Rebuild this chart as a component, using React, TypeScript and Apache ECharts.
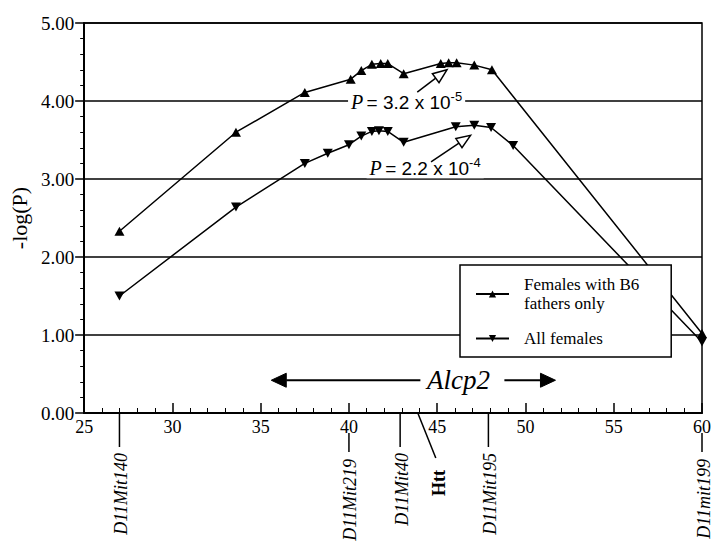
import React, { useEffect, useRef } from 'react';
import * as echarts from 'echarts';

// ---- data ----
const seriesNames = ['Females with B6 fathers only', 'All females'];
const b6X = [27.0, 33.6, 37.5, 40.1, 40.7, 41.3, 41.8, 42.2, 43.1, 45.2, 45.65, 46.1, 47.1, 48.1, 60.0];
const b6Y = [2.33, 3.60, 4.11, 4.28, 4.39, 4.47, 4.48, 4.48, 4.35, 4.48, 4.49, 4.49, 4.46, 4.40, 1.02];
const allX = [27.0, 33.6, 37.5, 38.8, 40.0, 40.7, 41.3, 41.7, 42.2, 43.1, 46.05, 47.1, 48.05, 49.3, 60.0];
const allY = [1.50, 2.64, 3.20, 3.33, 3.44, 3.55, 3.61, 3.62, 3.61, 3.47, 3.67, 3.69, 3.66, 3.43, 0.91];

const markerNames = ['D11Mit140', 'D11Mit219', 'D11Mit40', 'Htt', 'D11Mit195', 'D11mit199'];
const markerPos = [27.0, 40.0, 42.9, 43.9, 47.9, 60.0];

const annotMantissa = ['3.2 x 10', '2.2 x 10'];
const annotExponent = ['-5', '-4'];
const annotAnchor = [[39.95, 4.0], [41.0, 3.15]];
const arrowFrom = [[43.87, 4.115], [44.65, 3.22]];
const arrowTo = [[45.55, 4.40], [46.89, 3.56]];

const alcp2Label = 'Alcp2';
const alcp2Span = [35.6, 51.7];
const alcp2Center = 46.2;
const alcp2Level = 0.42;

const serif = 'Liberation Serif, serif';
const sans = 'Liberation Sans, sans-serif';

function arrowEls(p0: number[], p1: number[], headLen: number, headHalf: number, hollow: boolean, lw: number) {
  const dx = p1[0] - p0[0];
  const dy = p1[1] - p0[1];
  const len = Math.sqrt(dx * dx + dy * dy);
  const ux = dx / len, uy = dy / len;
  const bx = p1[0] - ux * headLen, by = p1[1] - uy * headLen;
  const px = -uy, py = ux;
  return [
    { type: 'line', z: 50, shape: { x1: p0[0], y1: p0[1], x2: bx, y2: by }, style: { stroke: '#000', lineWidth: lw } },
    {
      type: 'polygon', z: 51,
      shape: { points: [[p1[0], p1[1]], [bx + px * headHalf, by + py * headHalf], [bx - px * headHalf, by - py * headHalf]] },
      style: { fill: hollow ? '#fff' : '#000', stroke: '#000', lineWidth: hollow ? 1.5 : 1 },
    },
  ];
}

export default function App() {
  const ref = useRef<HTMLDivElement>(null);
  useEffect(() => {
    const chart = echarts.init(ref.current!, null, { renderer: 'svg' });
    const downTri = 'path://M0,0 L10,0 L5,9 Z';
    const upTri = 'path://M5,0 L10,9 L0,9 Z';
    chart.setOption({
      animation: false,
      backgroundColor: '#fff',
      textStyle: { fontFamily: serif },
      grid: { left: 81, right: 8, top: 23, bottom: 130, show: true, borderColor: '#000', borderWidth: 1.5 },
      xAxis: {
        type: 'value', min: 25, max: 60, interval: 5,
        axisLine: { show: true, onZero: false, lineStyle: { color: '#000', width: 2 } },
        axisTick: { show: true, inside: true, length: 10, lineStyle: { color: '#000', width: 1.5 } },
        minorTick: { show: true, splitNumber: 5, length: 5, lineStyle: { color: '#000', width: 1 } },
        axisLabel: { color: '#000', fontFamily: serif, fontSize: 18, margin: 5 },
        splitLine: { show: false },
      },
      yAxis: {
        type: 'value', min: 0, max: 5, interval: 1,
        name: '-log(P)', nameLocation: 'middle', nameGap: 54, nameRotate: 90,
        nameTextStyle: { color: '#000', fontFamily: serif, fontSize: 22 },
        axisLine: { show: true, lineStyle: { color: '#000', width: 2 } },
        axisTick: { show: true, length: 9, lineStyle: { color: '#000', width: 1.5 } },
        minorTick: { show: true, splitNumber: 5, length: 4, lineStyle: { color: '#000', width: 1 } },
        axisLabel: { color: '#000', fontFamily: serif, fontSize: 19, margin: 10, formatter: (v: number) => v.toFixed(2) },
        splitLine: { show: true, lineStyle: { color: '#000', width: 1.5 } },
      },
      legend: {
        left: 460, top: 265, orient: 'vertical',
        padding: [10, 32, 9, 15], itemGap: 16, itemWidth: 33, itemHeight: 9,
        backgroundColor: '#fff', borderColor: '#000', borderWidth: 1.5,
        data: seriesNames,
        formatter: (n: string) => (n === seriesNames[0] ? 'Females with B6\nfathers only' : n),
        textStyle: { color: '#000', fontFamily: serif, fontSize: 17, lineHeight: 19, padding: [0, 0, 0, 10] },
        z: 20,
      },
      series: [
        {
          name: seriesNames[0], type: 'line', data: b6X.map((x, i) => [x, b6Y[i]]),
          symbol: upTri, symbolSize: [10, 9], showAllSymbol: true,
          lineStyle: { color: '#000', width: 1.5 }, itemStyle: { color: '#000' }, z: 5,
        },
        {
          name: seriesNames[1], type: 'line', data: allX.map((x, i) => [x, allY[i]]),
          symbol: downTri, symbolSize: [10, 9], showAllSymbol: true,
          lineStyle: { color: '#000', width: 1.5 }, itemStyle: { color: '#000' }, z: 5,
        },
      ],
    });

    const toPx = (p: number[]) => chart.convertToPixel({ xAxisIndex: 0, yAxisIndex: 0 }, p) as number[];
    const els: any[] = [];

    // P-value annotations
    annotAnchor.forEach((a, i) => {
      const p = toPx(a);
      els.push({
        type: 'text', z: 40, x: p[0], y: p[1],
        style: {
          text: `{p|P} {s|= ${annotMantissa[i]}}{e|${annotExponent[i]}}`,
          align: 'left', verticalAlign: 'middle',
          backgroundColor: '#fff', padding: [0, 3, 0, 3],
          rich: {
            p: { fontFamily: serif, fontStyle: 'italic', fontSize: 20, lineHeight: 22, fill: '#000', verticalAlign: 'bottom' },
            s: { fontFamily: sans, fontSize: 19, lineHeight: 22, fill: '#000', verticalAlign: 'bottom' },
            e: { fontFamily: sans, fontSize: 13, lineHeight: 22, fill: '#000', verticalAlign: 'top' },
          },
        },
      });
      els.push(...arrowEls(toPx(arrowFrom[i]), toPx(arrowTo[i]), 14, 5.5, true, 1.5));
    });

    // Alcp2 double arrow
    const c = toPx([alcp2Center, alcp2Level]);
    const l = toPx([alcp2Span[0], alcp2Level]);
    const r = toPx([alcp2Span[1], alcp2Level]);
    els.push(...arrowEls([c[0] - 38, c[1]], l, 15, 7, false, 2));
    els.push(...arrowEls([c[0] + 46, c[1]], r, 15, 7, false, 2));
    els.push({
      type: 'text', z: 40, x: c[0], y: c[1],
      style: { text: alcp2Label, fontFamily: serif, fontStyle: 'italic', fontSize: 27, fill: '#000', align: 'center', verticalAlign: 'middle' },
    });

    // genetic markers below the axis
    markerNames.forEach((name, i) => {
      const pos = markerPos[i];
      const p = toPx([pos, 0]);
      const ax = p[0], ay = p[1];
      const nearTick = Math.abs(pos - Math.round(pos / 5) * 5) < 0.15;
      const isHtt = name === 'Htt';
      let textX = ax + 1.5, textY: number;
      if (isHtt) {
        els.push({ type: 'line', shape: { x1: ax, y1: ay, x2: ax + 18, y2: ay + 45 }, style: { stroke: '#000', lineWidth: 1.5 } });
        textX = ax + 21;
        textY = ay + 57;
      } else if (nearTick) {
        els.push({ type: 'line', shape: { x1: ax, y1: ay + 20, x2: ax, y2: ay + 39 }, style: { stroke: '#000', lineWidth: 1.5 } });
        textY = ay + 46;
      } else {
        els.push({ type: 'line', shape: { x1: ax, y1: ay, x2: ax, y2: ay + 34 }, style: { stroke: '#000', lineWidth: 1.5 } });
        textY = ay + 40;
      }
      els.push({
        type: 'text', x: textX, y: textY, rotation: Math.PI / 2,
        style: {
          text: name, fontFamily: serif, fontSize: 18,
          fontStyle: isHtt ? 'normal' : 'italic', fontWeight: isHtt ? 'bold' : 'normal',
          fill: '#000', align: 'right', verticalAlign: 'middle',
        },
      });
    });

    chart.setOption({ graphic: els });
    return () => chart.dispose();
  }, []);

  return <div ref={ref} style={{ position: 'fixed', left: 0, top: 0, width: 714, height: 543, background: '#fff' }} />;
}
